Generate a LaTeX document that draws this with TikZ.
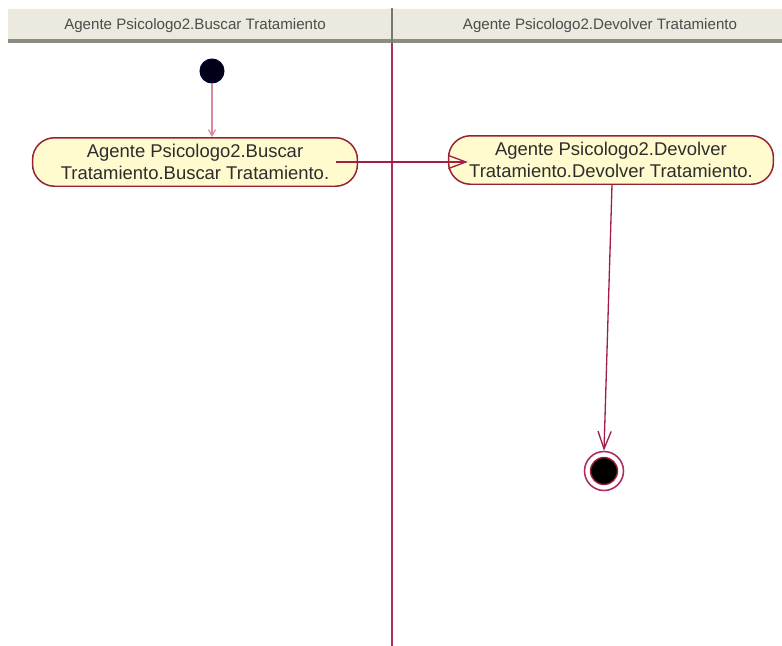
\documentclass[tikz,border=0pt]{standalone}
\usepackage{fontspec}
\setmainfont{Liberation Sans}
\usetikzlibrary{arrows.meta}

\definecolor{hdrfill}{RGB}{236,234,222}
\definecolor{hdrshade}{RGB}{140,140,128}
\definecolor{hdredge}{RGB}{120,120,110}
\definecolor{laneline}{RGB}{176,44,96}
\definecolor{actedge}{RGB}{150,34,52}
\definecolor{actfill}{RGB}{255,251,206}
\definecolor{flowcol}{RGB}{160,30,72}
\definecolor{startflow}{RGB}{214,140,152}
\definecolor{inkcol}{RGB}{45,45,45}

\begin{document}
\begin{tikzpicture}[x=0.02cm,y=-0.02cm,
  lanetitle/.style={font=\fontsize{8.6pt}{10pt}\selectfont, text=inkcol!85, inner sep=0pt},
  swimline/.style={draw=laneline, line width=1.1pt},
  action/.style={draw=actedge, fill=actfill, line width=0.85pt, rounded corners=12.5pt,
    minimum width=6.5cm, minimum height=0.97cm, inner sep=0pt, align=center,
    text=inkcol, font=\fontsize{10.5pt}{12.4pt}\selectfont},
  initial/.style={circle, fill=black!90!blue, draw=black!80!blue, line width=0.6pt,
    minimum size=0.48cm, inner sep=0pt},
  finalring/.style={circle, draw=laneline, line width=0.9pt, fill=white,
    minimum size=0.78cm, inner sep=0pt},
  finaldot/.style={circle, fill=black, draw=actedge, line width=0.8pt,
    minimum size=0.54cm, inner sep=0pt},
  flow/.style={draw=flowcol, line width=0.75pt,
    -{Straight Barb[length=10pt, width=7.5pt, line width=0.75pt]}},
  startlink/.style={draw=startflow, line width=0.7pt,
    -{Straight Barb[length=3.5pt, width=4pt, line width=0.7pt]}}
]
\useasboundingbox (0,0) rectangle (782,646);

% swimlane header bar
\fill[hdrfill] (8,8) rectangle (782,40);
\draw[white!85!hdrfill, line width=0.6pt] (8,8.5) -- (782,8.5);
\fill[hdrshade] (8,38.5) rectangle (782,43);
\draw[hdredge, line width=0.8pt] (392,8) -- (392,43);
\node[lanetitle] (laneA) at (195,26) {Agente Psicologo2.Buscar Tratamiento};
\node[lanetitle] (laneB) at (600,26) {Agente Psicologo2.Devolver Tratamiento};

% lane separator
\coordinate (sepTop) at (392,43);
\coordinate (sepBot) at (392,646);
\draw[swimline] (sepTop) -- (sepBot);

% states
\node[initial] (start) at (212,71) {};
\node[action] (buscar) at (195,162)
  {Agente Psicologo2.Buscar\\Tratamiento.Buscar Tratamiento.};
\node[action] (devolver) at (611,160)
  {Agente Psicologo2.Devolver\\Tratamiento.Devolver Tratamiento.};
\node[finalring] (fin) at (604,471) {};
\node[finaldot] (findot) at (fin) {};

% transitions
\draw[startlink] (start) -- (start |- buscar.north);
\draw[flow] ([xshift=-0.44cm]buscar.east) -- ([xshift=0.4cm]buscar.east -| devolver.west);
\draw[flow] ([xshift=0.02cm]devolver.south) -- (fin.north);
\end{tikzpicture}
\end{document}
